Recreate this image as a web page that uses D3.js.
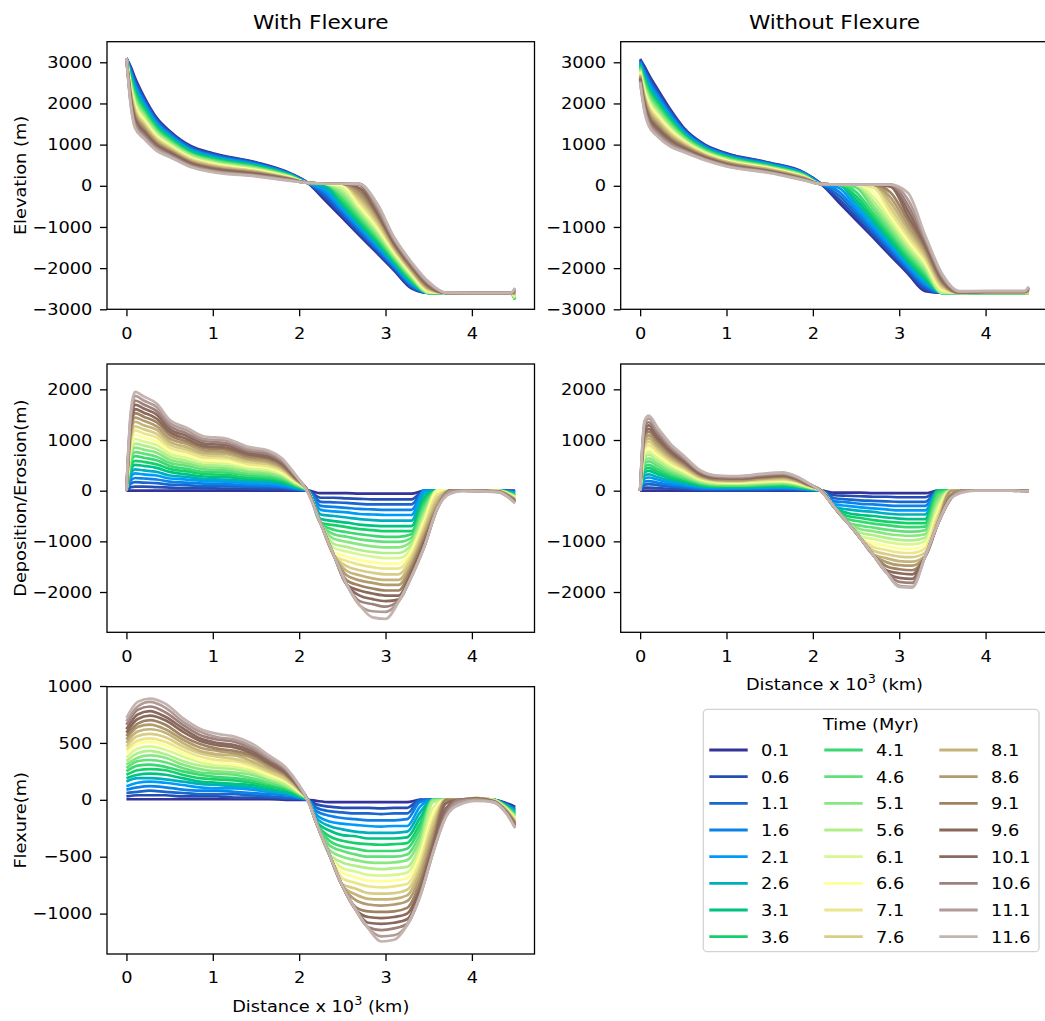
<!DOCTYPE html>
<html>
<head>
<meta charset="utf-8">
<script src="https://cdn.jsdelivr.net/npm/d3@7"></script>
<style>
  body { margin: 0; background: #fff; }
  svg { display: block; font-family: "DejaVu Sans", sans-serif; }
</style>
</head>
<body>
<svg id="fig" width="1045" height="1021"></svg>
<script>
// time steps shown in the legend (Myr)
const times = [0.1,0.6,1.1,1.6,2.1,2.6,3.1,3.6,4.1,4.6,5.1,5.6,6.1,6.6,7.1,7.6,8.1,8.6,9.1,9.6,10.1,10.6,11.1,11.6];

// distance positions (x 10^3 km) where the profiles were read
const xElev = [0,0.05,0.1,0.2,0.35,0.5,0.75,1.0,1.5,1.9,2.1,2.3,2.5,2.7,2.9,3.1,3.3,3.5,3.7,4.0,4.45,4.5];
const xDep  = [0,0.05,0.1,0.2,0.35,0.5,0.7,0.9,1.15,1.4,1.65,1.8,1.95,2.1,2.25,2.4,2.55,2.7,2.85,3.0,3.15,3.3,3.45,3.6,3.75,3.9,4.3,4.5];
const xFlex = [0,0.13,0.27,0.45,0.65,0.85,1.05,1.25,1.45,1.65,1.85,2.0,2.1,2.2,2.35,2.5,2.65,2.8,2.95,3.1,3.25,3.4,3.55,3.7,3.85,4.05,4.25,4.4,4.5];

// each row = one x position, 24 values = one per time step
const elevWith = [
 [3100,3100,3100,3100,3100,3100,3100,3100,3100,3100,3100,3100, 3100,3100,3100,3100,3100,3100,3100,3100,3100,3100,3100,3100],
 [2890,2850,2810,2770,2730,2690,2650,2600,2560,2520,2480,2440, 2400,2360,2320,2280,2240,2200,2150,2110,2070,2030,1990,1950],
 [2620,2570,2510,2460,2410,2350,2300,2250,2200,2140,2090,2040, 1980,1930,1880,1820,1770,1720,1670,1610,1560,1510,1450,1400],
 [2180,2140,2090,2050,2000,1960,1910,1870,1820,1780,1730,1690, 1640,1600,1550,1510,1460,1420,1370,1330,1280,1240,1190,1150],
 [1650,1620,1580,1550,1510,1480,1440,1410,1370,1340,1300,1270, 1230,1200,1160,1130,1090,1060,1020,990,950,920,890,850],
 [1330,1300,1280,1250,1220,1190,1170,1140,1110,1080,1060,1030, 1000,970,950,920,890,860,840,810,780,750,730,700],
 [960,940,920,890,870,850,830,800,780,760,740,720, 690,670,650,630,600,580,560,540,520,490,470,450],
 [790,770,750,730,710,690,670,650,630,610,590,570, 550,530,510,490,470,450,430,410,390,370,350,330],
 [570,560,540,530,510,500,480,470,450,440,420,410, 390,380,360,350,330,320,300,290,270,260,240,230],
 [300,290,280,280,270,260,250,250,240,230,220,210, 210,200,190,180,170,170,160,150,140,140,130,120],
 [70,70,70,70,70,70,70,70,70,70,70,70, 70,70,70,70,70,70,70,70,70,70,70,70],
 [-350,-290,-230,-170,-110,-40,20,50,50,50,50,50, 50,50,50,50,50,50,50,50,50,50,50,50],
 [-780,-720,-670,-610,-560,-500,-440,-380,-320,-250,-190,-120, -50,20,50,50,50,50,50,50,50,50,50,50],
 [-1210,-1160,-1110,-1060,-1010,-960,-900,-850,-790,-730,-670,-610, -550,-480,-420,-350,-280,-210,-130,-60,20,45,45,40],
 [-1630,-1590,-1550,-1500,-1460,-1410,-1360,-1310,-1260,-1210,-1160,-1100, -1050,-990,-930,-870,-810,-740,-690,-650,-600,-540,-480,-420],
 [-2060,-2030,-1990,-1960,-1920,-1890,-1850,-1820,-1780,-1750,-1710,-1680, -1640,-1600,-1570,-1530,-1500,-1460,-1430,-1390,-1360,-1320,-1290,-1250],
 [-2490,-2460,-2440,-2410,-2380,-2350,-2330,-2300,-2270,-2240,-2210,-2190, -2160,-2130,-2100,-2070,-2050,-2020,-1990,-1960,-1930,-1910,-1880,-1850],
 [-2600,-2600,-2600,-2600,-2600,-2600,-2600,-2600,-2600,-2600,-2600,-2590, -2575,-2560,-2540,-2520,-2500,-2480,-2460,-2435,-2410,-2385,-2360,-2330],
 [-2600,-2600,-2600,-2600,-2600,-2600,-2600,-2600,-2600,-2600,-2600,-2600, -2600,-2600,-2600,-2600,-2600,-2600,-2600,-2600,-2600,-2600,-2595,-2595],
 [-2600,-2600,-2600,-2600,-2600,-2600,-2600,-2600,-2600,-2600,-2600,-2600, -2600,-2600,-2600,-2600,-2600,-2600,-2600,-2600,-2600,-2600,-2600,-2600],
 [-2610,-2610,-2610,-2610,-2610,-2610,-2620,-2620,-2620,-2620,-2620,-2610, -2610,-2610,-2610,-2610,-2600,-2600,-2600,-2600,-2600,-2600,-2600,-2600],
 [-2640,-2660,-2680,-2700,-2720,-2740,-2760,-2760,-2750,-2740,-2730,-2720, -2700,-2680,-2660,-2640,-2620,-2600,-2580,-2560,-2540,-2520,-2500,-2480]
];

const elevWithout = [
 [3080,3055,3030,3000,2980,2950,2930,2900,2880,2850,2830,2800, 2780,2750,2730,2700,2680,2650,2630,2600,2580,2550,2530,2500],
 [2900,2850,2800,2760,2710,2660,2610,2570,2520,2470,2420,2370, 2330,2280,2230,2180,2140,2090,2040,1990,1940,1900,1850,1800],
 [2700,2650,2590,2540,2480,2430,2370,2320,2270,2210,2160,2100, 2050,1990,1940,1880,1830,1780,1720,1670,1610,1560,1500,1450],
 [2350,2300,2250,2200,2150,2100,2050,2000,1950,1900,1850,1800, 1750,1700,1650,1600,1550,1500,1450,1400,1350,1300,1250,1200],
 [1850,1810,1770,1730,1690,1650,1620,1580,1540,1500,1460,1420, 1380,1340,1300,1260,1220,1180,1150,1110,1070,1030,990,950],
 [1420,1390,1370,1340,1320,1290,1260,1240,1210,1190,1160,1130, 1110,1080,1060,1030,1000,980,950,920,900,870,850,820],
 [1000,980,970,950,930,920,900,880,870,850,830,820, 800,790,770,750,740,720,700,690,670,650,640,620],
 [790,780,760,750,730,720,710,690,680,660,650,640, 620,610,590,580,570,550,540,520,510,500,480,470],
 [560,550,540,530,520,510,490,480,470,460,450,440, 430,420,410,400,390,370,360,350,340,330,320,310],
 [320,310,300,300,290,280,270,260,250,250,240,230, 220,210,200,200,190,180,170,160,150,150,140,130],
 [40,40,40,40,40,40,40,40,40,40,40,40, 40,40,40,40,40,40,40,40,40,40,40,40],
 [-400,-320,-230,-140,-50,30,30,30,30,30,30,30, 30,30,30,30,30,30,30,30,30,30,30,30],
 [-830,-760,-680,-600,-520,-430,-340,-250,-150,-40,30,30, 30,30,30,30,30,30,30,30,30,30,30,30],
 [-1260,-1200,-1130,-1060,-990,-910,-830,-750,-670,-570,-480,-380, -270,-150,-40,30,30,30,30,30,30,30,30,30],
 [-1700,-1640,-1580,-1520,-1460,-1390,-1330,-1250,-1180,-1100,-1020,-930, -840,-740,-640,-530,-410,-290,-160,-20,30,30,30,30],
 [-2130,-2080,-2030,-1980,-1930,-1870,-1820,-1760,-1690,-1630,-1560,-1490, -1410,-1330,-1240,-1150,-1050,-950,-840,-730,-600,-470,-330,-170],
 [-2560,-2510,-2460,-2410,-2360,-2310,-2260,-2200,-2150,-2090,-2035,-1975, -1915,-1850,-1790,-1720,-1650,-1580,-1510,-1440,-1380,-1320,-1260,-1200],
 [-2600,-2600,-2600,-2600,-2600,-2600,-2600,-2600,-2600,-2600,-2600,-2600, -2560,-2520,-2490,-2450,-2410,-2380,-2340,-2300,-2260,-2230,-2190,-2150],
 [-2600,-2600,-2600,-2600,-2600,-2600,-2600,-2600,-2600,-2600,-2600,-2600, -2600,-2600,-2600,-2600,-2600,-2600,-2595,-2590,-2585,-2580,-2570,-2560],
 [-2600,-2600,-2600,-2600,-2600,-2600,-2600,-2600,-2600,-2600,-2600,-2600, -2595,-2595,-2590,-2590,-2585,-2580,-2580,-2575,-2570,-2565,-2560,-2555],
 [-2600,-2600,-2600,-2600,-2600,-2600,-2600,-2600,-2600,-2600,-2600,-2600, -2595,-2595,-2590,-2590,-2585,-2580,-2580,-2575,-2570,-2565,-2560,-2555],
 [-2610,-2610,-2610,-2610,-2610,-2610,-2610,-2610,-2600,-2600,-2600,-2600, -2600,-2600,-2600,-2600,-2560,-2540,-2520,-2500,-2480,-2470,-2460,-2450]
];

const depWith = [
 [0,0,0,0,0,0,0,0,0,0,0,0, 0,0,0,0,0,0,0,0,0,0,0,0],
 [0,70,140,200,270,340,410,470,540,610,680,750, 810,880,950,1020,1090,1150,1220,1290,1360,1420,1490,1560],
 [0,80,170,250,340,420,510,590,680,760,850,930, 1020,1100,1190,1270,1360,1440,1530,1610,1700,1780,1870,1950],
 [0,80,160,240,320,400,490,570,650,730,810,890, 970,1050,1130,1210,1290,1380,1460,1540,1620,1700,1780,1860],
 [0,70,150,220,300,370,450,520,600,670,750,820, 900,970,1050,1120,1200,1270,1350,1420,1500,1570,1650,1720],
 [0,60,120,180,240,300,370,430,490,550,610,670, 730,790,850,910,970,1030,1100,1160,1220,1280,1340,1400],
 [0,50,110,160,220,270,320,380,430,490,540,590, 650,700,760,810,860,920,970,1020,1080,1130,1190,1240],
 [0,50,90,140,190,230,280,330,370,420,470,510, 560,600,650,700,740,790,840,880,930,980,1020,1070],
 [0,40,90,130,180,220,270,310,360,400,450,490, 540,580,630,670,720,760,810,850,900,940,990,1030],
 [0,40,80,110,150,190,230,260,300,340,380,420, 450,490,530,570,610,640,680,720,760,790,830,870],
 [0,30,70,100,140,170,210,240,270,310,340,380, 410,450,480,520,550,580,620,650,690,720,760,790],
 [0,30,60,80,110,140,170,190,220,250,280,310, 330,360,390,420,450,470,500,530,560,580,610,640],
 [0,10,30,40,60,70,90,100,110,130,140,160, 170,190,200,220,230,240,260,270,290,300,320,330],
 [0,0,0,0,0,0,0,0,0,0,0,0, 0,0,0,0,0,0,0,0,-10,-20,-30,-40],
 [-50,-140,-220,-300,-380,-470,-560,-640,-650,-650,-650,-650, -650,-650,-650,-650,-650,-650,-650,-650,-650,-650,-650,-660],
 [-50,-140,-230,-320,-410,-500,-600,-680,-770,-860,-950,-1050, -1130,-1220,-1270,-1270,-1270,-1270,-1270,-1270,-1270,-1270,-1270,-1270],
 [-50,-150,-240,-340,-430,-530,-630,-720,-820,-910,-1010,-1110, -1200,-1300,-1390,-1490,-1580,-1670,-1770,-1850,-1850,-1850,-1850,-1850],
 [-60,-160,-260,-360,-460,-560,-670,-760,-860,-960,-1060,-1170, -1260,-1370,-1460,-1570,-1670,-1770,-1870,-1970,-2070,-2180,-2260,-2260],
 [-60,-170,-270,-370,-470,-580,-690,-780,-890,-990,-1100,-1210, -1300,-1410,-1510,-1620,-1730,-1820,-1930,-2030,-2140,-2240,-2380,-2500],
 [-60,-170,-270,-380,-480,-590,-700,-800,-910,-1010,-1120,-1230, -1330,-1440,-1540,-1650,-1760,-1860,-1970,-2070,-2180,-2290,-2390,-2530],
 [-60,-170,-270,-380,-480,-590,-700,-800,-910,-1010,-1120,-1230, -1330,-1440,-1540,-1650,-1760,-1860,-1970,-2070,-2150,-2170,-2190,-2200],
 [-60,-170,-270,-380,-480,-590,-700,-800,-860,-930,-1000,-1070, -1140,-1200,-1270,-1340,-1410,-1480,-1540,-1610,-1680,-1690,-1700,-1700],
 [0,0,0,0,0,-60,-130,-200,-260,-330,-400,-470, -540,-600,-670,-740,-810,-880,-940,-1010,-1080,-1100,-1100,-1100],
 [0,0,0,0,0,0,0,0,0,0,0,0, 0,0,-70,-140,-210,-280,-340,-350,-350,-350,-350,-350],
 [0,0,0,0,0,0,0,0,0,0,0,0, 0,0,0,0,0,0,0,0,0,0,-20,-60],
 [0,0,0,0,0,0,0,0,0,0,0,0, 0,0,0,0,0,0,0,0,0,0,0,-10],
 [0,0,0,0,0,0,0,0,0,0,0,0, -5,-5,-10,-10,-10,-15,-15,-20,-20,-25,-25,-30],
 [0,-10,-20,-30,-40,-50,-70,-80,-90,-100,-110,-120, -130,-140,-150,-160,-170,-180,-200,-210,-220,-230,-240,-250]
];

const depWithout = [
 [0,0,0,0,0,0,0,0,0,0,0,0, 0,0,0,0,0,0,0,0,0,0,0,0],
 [0,60,120,180,240,300,360,420,480,540,600,660, 720,780,840,900,960,1020,1080,1140,1200,1260,1320,1380],
 [0,60,130,190,260,320,390,450,510,580,640,710, 770,840,900,970,1030,1090,1160,1220,1290,1350,1420,1480],
 [0,50,110,160,220,270,330,380,430,490,540,600, 650,710,760,820,870,920,980,1030,1090,1140,1200,1250],
 [0,40,80,120,160,200,240,280,320,360,400,440, 490,530,570,610,650,690,730,770,810,850,890,930],
 [0,30,60,90,120,150,180,210,240,270,300,330, 370,400,430,460,490,520,550,580,610,640,670,700],
 [0,20,30,50,70,90,100,120,140,160,170,190, 210,230,240,260,280,300,310,330,350,370,380,400],
 [0,10,30,40,50,70,80,90,100,120,130,140, 160,170,180,200,210,220,230,250,260,270,290,300],
 [0,10,30,40,50,60,80,90,100,110,130,140, 150,160,180,190,200,210,230,240,250,260,280,290],
 [0,10,30,40,60,70,90,100,110,130,140,160, 170,190,200,220,230,240,260,270,290,300,320,330],
 [0,20,30,50,60,80,90,110,130,140,160,170, 190,200,220,230,250,270,280,300,310,330,340,360],
 [0,10,30,40,50,60,80,90,100,110,130,140, 150,160,180,190,200,210,230,240,250,260,280,290],
 [0,10,10,20,30,30,40,50,50,60,70,70, 80,90,90,100,100,110,120,120,130,140,140,150],
 [0,0,0,0,0,0,0,0,0,0,0,0, 0,0,0,0,0,0,0,0,-10,-10,-20,-20],
 [-40,-90,-150,-210,-270,-325,-330,-330,-330,-330,-330,-330, -330,-330,-330,-330,-330,-330,-330,-330,-330,-330,-330,-330],
 [-40,-100,-170,-230,-300,-370,-440,-500,-560,-625,-625,-625, -625,-625,-625,-625,-625,-625,-625,-625,-625,-625,-625,-625],
 [-40,-110,-190,-260,-330,-400,-480,-540,-610,-690,-760,-830, -900,-935,-935,-935,-935,-935,-935,-935,-935,-935,-935,-935],
 [-50,-120,-200,-270,-350,-420,-500,-580,-650,-730,-800,-880, -950,-1040,-1110,-1180,-1260,-1270,-1270,-1270,-1270,-1270,-1270,-1270],
 [-50,-120,-210,-290,-370,-450,-530,-610,-680,-770,-850,-930, -1010,-1090,-1170,-1250,-1330,-1410,-1490,-1570,-1610,-1610,-1610,-1610],
 [-50,-130,-220,-300,-390,-470,-550,-630,-710,-800,-880,-970, -1050,-1140,-1220,-1300,-1390,-1470,-1550,-1630,-1720,-1800,-1880,-1900],
 [-50,-130,-220,-300,-390,-470,-560,-640,-720,-810,-890,-980, -1060,-1150,-1230,-1310,-1400,-1480,-1570,-1650,-1740,-1820,-1900,-1915],
 [-50,-130,-220,-300,-390,-470,-560,-640,-710,-780,-860,-930, -1000,-1070,-1140,-1220,-1290,-1300,-1300,-1300,-1300,-1300,-1300,-1300],
 [0,0,0,0,0,0,0,0,-40,-110,-180,-250, -320,-400,-470,-540,-610,-640,-640,-640,-640,-640,-640,-640],
 [0,0,0,0,0,0,0,0,0,0,0,0, 0,0,0,0,0,-10,-80,-150,-150,-150,-150,-150],
 [0,0,0,0,0,0,0,0,0,0,0,0, 0,0,0,0,0,0,0,0,0,0,0,-30],
 [0,0,0,0,0,0,0,0,0,0,0,0, 0,0,0,0,0,0,0,0,0,0,0,0],
 [0,0,0,0,0,0,0,0,0,0,0,0, 0,0,0,0,0,0,0,0,0,0,0,0],
 [0,0,0,0,0,0,0,0,0,0,0,0, 0,0,0,0,0,0,0,0,-10,-10,-10,-10]
];

const flexure = [
 [5,30,60,90,120,160,190,220,250,280,310,340, 370,410,440,470,500,530,560,590,620,660,690,720],
 [5,40,70,110,150,190,220,260,300,340,370,410, 450,490,520,560,600,640,670,710,750,790,820,860],
 [5,40,80,120,160,190,230,270,310,350,390,430, 470,510,540,580,620,660,700,740,780,820,860,890],
 [5,40,70,110,150,180,220,260,290,330,370,400, 440,480,510,550,590,620,660,700,730,770,810,845],
 [5,30,60,90,130,160,190,220,250,280,310,340, 380,410,440,470,500,530,560,600,630,660,690,720],
 [5,30,50,80,110,140,160,190,220,240,270,300, 330,350,380,410,430,460,490,520,540,570,600,625],
 [5,30,50,80,100,130,150,180,200,230,250,280, 300,330,350,380,400,430,450,480,500,530,550,580],
 [5,20,50,70,100,120,140,170,190,220,240,270, 290,310,340,360,390,410,430,460,480,510,530,555],
 [5,20,40,60,90,110,130,150,170,190,220,240, 260,280,300,320,340,370,390,410,430,450,470,495],
 [5,20,30,50,70,80,100,120,140,150,170,190, 200,220,240,250,270,290,310,320,340,360,370,390],
 [0,10,20,40,50,60,70,90,100,110,120,130, 150,160,170,180,200,210,220,230,240,260,270,280],
 [0,10,10,20,20,30,30,40,50,50,60,60, 70,70,80,90,90,100,100,110,110,120,120,130],
 [0,0,0,0,0,0,0,0,0,0,0,0, 0,0,0,0,0,0,0,0,0,0,0,-10],
 [-10,-40,-70,-100,-130,-160,-190,-205,-205,-205,-205,-205, -205,-205,-205,-205,-205,-205,-205,-205,-205,-205,-205,-205],
 [-20,-60,-100,-140,-190,-230,-270,-320,-360,-400,-440,-480, -480,-480,-480,-480,-480,-480,-480,-480,-480,-480,-480,-480],
 [-20,-70,-110,-160,-210,-260,-310,-360,-410,-450,-500,-550, -600,-640,-690,-740,-755,-755,-755,-755,-755,-755,-755,-755],
 [-20,-70,-120,-170,-220,-280,-320,-380,-430,-480,-530,-580, -630,-680,-730,-780,-830,-880,-940,-960,-960,-960,-960,-960],
 [-20,-70,-120,-180,-230,-290,-340,-390,-450,-500,-550,-600, -660,-710,-760,-820,-870,-920,-980,-1030,-1080,-1120,-1125,-1130],
 [-20,-75,-125,-180,-235,-290,-340,-395,-450,-500,-555,-610, -665,-715,-770,-825,-875,-930,-985,-1040,-1090,-1145,-1200,-1245],
 [-20,-70,-120,-180,-230,-290,-340,-390,-450,-500,-550,-600, -660,-710,-760,-820,-870,-920,-980,-1030,-1080,-1130,-1190,-1230],
 [-20,-70,-120,-170,-230,-280,-330,-380,-430,-480,-530,-590, -640,-690,-740,-790,-840,-890,-950,-1000,-1050,-1090,-1100,-1100],
 [0,0,0,-20,-60,-110,-160,-210,-250,-300,-350,-400, -440,-490,-540,-590,-630,-680,-730,-780,-820,-840,-845,-850],
 [0,0,0,0,0,0,0,0,0,0,0,-20, -70,-120,-170,-210,-260,-310,-360,-400,-450,-460,-465,-465],
 [0,0,0,0,0,0,0,0,0,0,0,0, 0,0,0,0,0,0,0,-30,-75,-120,-145,-150],
 [0,0,0,0,0,0,0,0,0,0,0,0, 0,0,0,0,0,0,0,0,0,0,-20,-45],
 [0,0,5,5,5,10,10,10,10,15,15,15, 15,15,15,15,10,10,10,10,5,5,0,-10],
 [0,0,0,0,0,0,0,0,0,0,0,0, 0,-5,-5,-5,-10,-10,-10,-15,-15,-20,-20,-20],
 [-30,-35,-40,-45,-50,-50,-55,-60,-65,-70,-70,-75, -80,-85,-90,-90,-95,-100,-105,-110,-110,-115,-120,-120],
 [-60,-70,-80,-85,-95,-100,-110,-120,-125,-135,-145,-150, -160,-170,-175,-185,-195,-200,-210,-220,-225,-235,-240,-250]
];

const elevTicks = [-3000,-2000,-1000,0,1000,2000,3000];
const depTicks = [-2000,-1000,0,1000,2000];
const flexTicks = [-1000,-500,0,500,1000];
const xTicks = [0,1,2,3,4];

// matplotlib "terrain" colormap
const terrain = d3.scaleLinear()
  .domain([0, 0.15, 0.25, 0.5, 0.75, 1])
  .range(["#333399", "#0099ff", "#00cc66", "#ffff99", "#805c54", "#ffffff"]);
const lineColor = i => terrain(i / 26);

const svg = d3.select("#fig");
const stretch = 1.11;   // the source picture is a bit wider than tall
const panelW = 427.5;

function drawPanel(p) {
  const g = svg.append("g");
  const x = d3.scaleLinear().domain([-0.225, 4.725]).range([p.left, p.left + panelW]);
  const y = d3.scaleLinear().domain(p.yDomain).range([p.bottom, p.top]);

  const series = d3.transpose(p.cols);
  const line = d3.line()
    .x((d, j) => x(p.grid[j]))
    .y(d => y(d))
    .curve(d3.curveMonotoneX);

  g.selectAll("path.series")
    .data(series)
    .join("path")
    .attr("class", "series")
    .attr("d", line)
    .attr("fill", "none")
    .attr("stroke", (d, i) => lineColor(i))
    .attr("stroke-width", 2.7)
    .attr("stroke-linejoin", "round");

  g.append("rect")
    .attr("x", p.left).attr("y", p.top)
    .attr("width", panelW).attr("height", p.bottom - p.top)
    .attr("fill", "none").attr("stroke", "#000").attr("stroke-width", 1.3);

  const xa = g.append("g")
    .attr("transform", `translate(0,${p.bottom})`)
    .call(d3.axisBottom(x).tickValues(xTicks).tickFormat(d3.format("d"))
      .tickSize(7).tickPadding(11).tickSizeOuter(0));
  const ya = g.append("g")
    .attr("transform", `translate(${p.left},0)`)
    .call(d3.axisLeft(y).tickValues(p.yTicks).tickFormat(d3.format("d"))
      .tickSize(7).tickPadding(6.2).tickSizeOuter(0));

  [xa, ya].forEach(a => {
    a.select(".domain").remove();
    a.attr("font-family", null).attr("font-size", null);
    a.selectAll(".tick line").attr("stroke", "#000").attr("stroke-width", 1.3);
    a.selectAll(".tick text")
      .attr("fill", "#000")
      .style("font-size", "16px")
      .attr("transform", `scale(${stretch},1)`);
  });

  if (p.title) {
    svg.append("text")
      .attr("transform", `translate(${p.left + panelW / 2},29) scale(${stretch},1)`)
      .attr("text-anchor", "middle")
      .style("font-size", "19.5px")
      .text(p.title);
  }
  if (p.ylabel) {
    svg.append("text")
      .attr("transform", `translate(26,${(p.top + p.bottom) / 2}) rotate(-90) scale(${stretch},1)`)
      .attr("text-anchor", "middle")
      .style("font-size", "16px")
      .text(p.ylabel);
  }
  if (p.xlabel) {
    const t = svg.append("text")
      .attr("transform", `translate(${p.left + panelW / 2},${p.bottom + 57.5}) scale(${stretch},1)`)
      .attr("text-anchor", "middle")
      .style("font-size", "16px");
    t.append("tspan").text("Distance x 10");
    t.append("tspan").attr("dy", -7).style("font-size", "11.5px").text("3");
    t.append("tspan").attr("dy", 7).text(" (km)");
  }
}

drawPanel({ left: 107, top: 41.7, bottom: 309.3, yDomain: [-3000, 3500], yTicks: elevTicks,
  grid: xElev, cols: elevWith, title: "With Flexure", ylabel: "Elevation (m)" });
drawPanel({ left: 620.7, top: 41.7, bottom: 309.3, yDomain: [-3000, 3500], yTicks: elevTicks,
  grid: xElev, cols: elevWithout, title: "Without Flexure" });
drawPanel({ left: 107, top: 364, bottom: 632.3, yDomain: [-2795, 2500], yTicks: depTicks,
  grid: xDep, cols: depWith, ylabel: "Deposition/Erosion(m)" });
drawPanel({ left: 620.7, top: 364, bottom: 632.3, yDomain: [-2795, 2500], yTicks: depTicks,
  grid: xDep, cols: depWithout, xlabel: true });
drawPanel({ left: 107, top: 686.7, bottom: 954, yDomain: [-1355, 994], yTicks: flexTicks,
  grid: xFlex, cols: flexure, ylabel: "Flexure(m)", xlabel: true });

// legend
const lg = svg.append("g").attr("transform", "translate(703.3,709.3)");
lg.append("rect")
  .attr("width", 335.7).attr("height", 242.4).attr("rx", 4)
  .attr("fill", "#fff").attr("stroke", "#d3d3d3").attr("stroke-width", 1.3);
lg.append("text")
  .attr("transform", `translate(167.7,21) scale(${stretch},1)`)
  .attr("text-anchor", "middle")
  .style("font-size", "16px")
  .text("Time (Myr)");

const items = lg.selectAll("g.item")
  .data(times)
  .join("g")
  .attr("class", "item")
  .attr("transform", (d, i) => `translate(${Math.floor(i / 8) * 115},${40.7 + (i % 8) * 26.67})`);
items.append("line")
  .attr("x1", 6).attr("x2", 44.4)
  .attr("stroke", (d, i) => lineColor(i)).attr("stroke-width", 2.8);
items.append("text")
  .attr("transform", `translate(57.7,6) scale(${stretch},1)`)
  .style("font-size", "16px")
  .text(d => String(d));
</script>
</body>
</html>
